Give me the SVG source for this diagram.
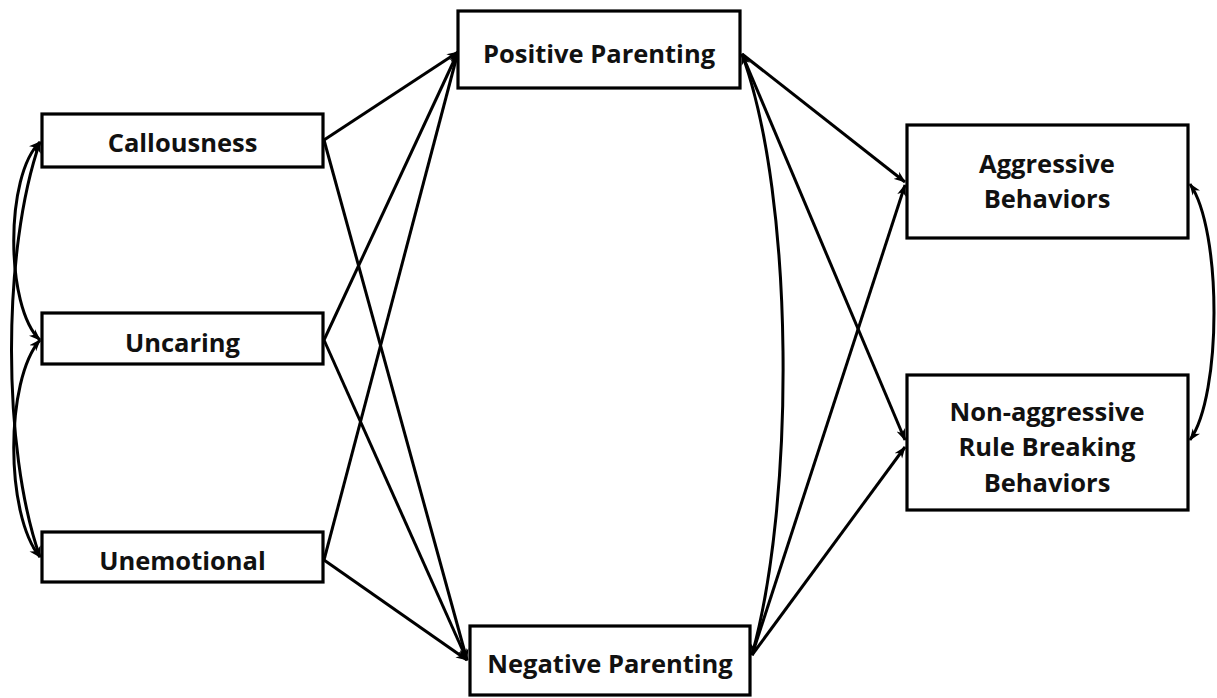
<svg xmlns="http://www.w3.org/2000/svg" width="1217" height="698" viewBox="0 0 1217 698">
<style>
.box{fill:#fff;stroke:#000;stroke-width:3.2}
.lbl{font-family:"Open Sans",Lato,"Liberation Sans",sans-serif;font-weight:bold;font-size:25.5px;fill:#111;text-anchor:middle}
.c{fill:none;stroke:#000;stroke-width:3}
</style>
<defs>
<marker id="ah" viewBox="0 0 12 10" refX="11" refY="5" markerWidth="12" markerHeight="10" markerUnits="userSpaceOnUse" orient="auto-start-reverse">
<path d="M0,0.5 L12,5 L0,9.5 L3.5,5 z" fill="#000"/>
</marker>
</defs>
<g id="connectors">
<path class="c" d="M40,142 C5,175 5,307 40,340" marker-start="url(#ah)" marker-end="url(#ah)"/>
<path class="c" d="M40,340 C5,380 5,515 40,557" marker-start="url(#ah)" marker-end="url(#ah)"/>
<path class="c" d="M40,142 C2,250 2,450 40,557" marker-start="url(#ah)" marker-end="url(#ah)"/>
<line class="c" x1="324" y1="140" x2="458" y2="52" marker-end="url(#ah)"/>
<line class="c" x1="324" y1="140" x2="467" y2="660" marker-end="url(#ah)"/>
<line class="c" x1="324" y1="340" x2="458" y2="52" marker-end="url(#ah)"/>
<line class="c" x1="324" y1="340" x2="467" y2="660" marker-end="url(#ah)"/>
<line class="c" x1="324" y1="560" x2="458" y2="52" marker-end="url(#ah)"/>
<line class="c" x1="324" y1="560" x2="467" y2="660" marker-end="url(#ah)"/>
<line class="c" x1="742" y1="54" x2="905" y2="182" marker-end="url(#ah)"/>
<line class="c" x1="742" y1="54" x2="905" y2="440" marker-end="url(#ah)"/>
<line class="c" x1="752" y1="655" x2="905" y2="185" marker-end="url(#ah)"/>
<line class="c" x1="752" y1="655" x2="905" y2="447" marker-end="url(#ah)"/>
<path class="c" d="M742,54 C795,200 795,500 752,655" marker-start="url(#ah)" marker-end="url(#ah)"/>
<path class="c" d="M1190,184 C1222,230 1222,395 1190,440" marker-start="url(#ah)" marker-end="url(#ah)"/>
</g>
<g id="callousness"><rect class="box" x="42" y="114" width="281" height="53"/><text class="lbl" x="182.5" y="152">Callousness</text></g>
<g id="uncaring"><rect class="box" x="42" y="313" width="281" height="51"/><text class="lbl" x="182.5" y="352">Uncaring</text></g>
<g id="unemotional"><rect class="box" x="42" y="532" width="281" height="50"/><text class="lbl" x="182.5" y="570">Unemotional</text></g>
<g id="positive-parenting"><rect class="box" x="458" y="11" width="282" height="77"/><text class="lbl" x="599" y="63">Positive Parenting</text></g>
<g id="negative-parenting"><rect class="box" x="470" y="626" width="280" height="69"/><text class="lbl" x="610" y="673">Negative Parenting</text></g>
<g id="aggressive"><rect class="box" x="907" y="125" width="281" height="113"/><text class="lbl" x="1047" y="173">Aggressive</text><text class="lbl" x="1047" y="208">Behaviors</text></g>
<g id="non-aggressive"><rect class="box" x="907" y="375" width="281" height="135"/><text class="lbl" x="1047" y="421">Non-aggressive</text><text class="lbl" x="1047" y="456">Rule Breaking</text><text class="lbl" x="1047" y="492">Behaviors</text></g>
</svg>
